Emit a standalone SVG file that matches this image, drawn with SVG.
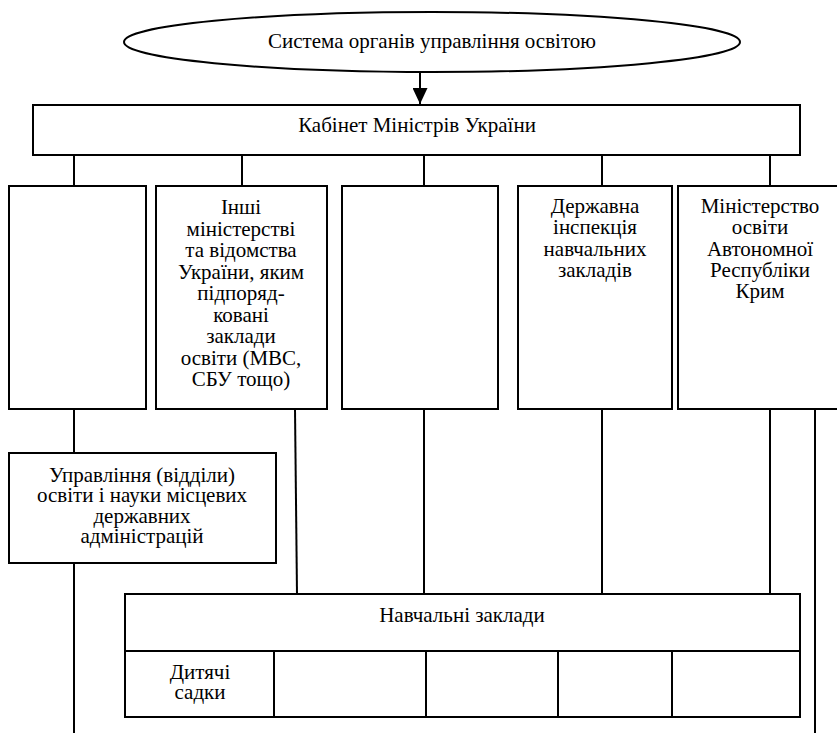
<svg xmlns="http://www.w3.org/2000/svg" width="837" height="733" viewBox="0 0 837 733">
<defs>
<style>
.b{fill:#fff;stroke:#000;stroke-width:2}
.l{stroke:#000;stroke-width:2;fill:none}
</style>
<marker id="ah" markerWidth="16" markerHeight="15" refX="16" refY="7.5" orient="auto" markerUnits="userSpaceOnUse" viewBox="0 0 16 15">
<path d="M0,0 L16,7.5 L0,15 Z" fill="#000"/>
</marker>
</defs>
<rect width="837" height="733" fill="#fff"/>
<g id="connectors">
<line class="l" x1="420" y1="72" x2="420" y2="104" marker-end="url(#ah)"/>
<line class="l" x1="74" y1="155" x2="74" y2="186"/>
<line class="l" x1="242" y1="155" x2="242" y2="186"/>
<line class="l" x1="424" y1="155" x2="424" y2="186"/>
<line class="l" x1="602" y1="155" x2="602" y2="186"/>
<line class="l" x1="770" y1="155" x2="770" y2="186"/>
<line class="l" x1="74" y1="409" x2="74" y2="453"/>
<line class="l" x1="74" y1="563" x2="74" y2="733"/>
<line class="l" x1="295" y1="409" x2="297" y2="594"/>
<line class="l" x1="424" y1="409" x2="424" y2="594"/>
<line class="l" x1="602" y1="409" x2="602" y2="594"/>
<line class="l" x1="770" y1="409" x2="770" y2="594"/>
<line class="l" x1="815" y1="409" x2="815" y2="733"/>
</g>
<g id="system">
<ellipse class="b" cx="432" cy="42" rx="308" ry="30"/>
<text x="432" y="48" font-family="Liberation Serif, serif" font-size="21" text-anchor="middle">Система органів управління освітою</text>
</g>
<g id="cabinet">
<rect class="b" x="33" y="105" width="767" height="50"/>
<text x="417" y="132" font-family="Liberation Serif, serif" font-size="21" text-anchor="middle">Кабінет Міністрів України</text>
</g>
<g id="box1">
<rect class="b" x="9" y="186" width="137" height="223"/>
</g>
<g id="box2">
<rect class="b" x="156" y="186" width="171" height="223"/>
<text x="241" y="214" font-family="Liberation Serif, serif" font-size="21" text-anchor="middle">Інші</text>
<text x="241" y="235.5" font-family="Liberation Serif, serif" font-size="21" text-anchor="middle">міністерстві</text>
<text x="241" y="257" font-family="Liberation Serif, serif" font-size="21" text-anchor="middle">та відомства</text>
<text x="241" y="278.5" font-family="Liberation Serif, serif" font-size="21" text-anchor="middle">України, яким</text>
<text x="241" y="300" font-family="Liberation Serif, serif" font-size="21" text-anchor="middle">підпоряд-</text>
<text x="241" y="321.5" font-family="Liberation Serif, serif" font-size="21" text-anchor="middle">ковані</text>
<text x="241" y="343" font-family="Liberation Serif, serif" font-size="21" text-anchor="middle">заклади</text>
<text x="241" y="364.5" font-family="Liberation Serif, serif" font-size="21" text-anchor="middle">освіти (МВС,</text>
<text x="241" y="386" font-family="Liberation Serif, serif" font-size="21" text-anchor="middle">СБУ тощо)</text>
</g>
<g id="box3">
<rect class="b" x="342" y="186" width="156" height="223"/>
</g>
<g id="box4">
<rect class="b" x="518" y="186" width="154" height="223"/>
<text x="595" y="213" font-family="Liberation Serif, serif" font-size="21" text-anchor="middle">Державна</text>
<text x="595" y="234" font-family="Liberation Serif, serif" font-size="21" text-anchor="middle">інспекція</text>
<text x="595" y="256" font-family="Liberation Serif, serif" font-size="21" text-anchor="middle">навчальних</text>
<text x="595" y="277" font-family="Liberation Serif, serif" font-size="21" text-anchor="middle">закладів</text>
</g>
<g id="box5">
<rect class="b" x="678" y="186" width="170" height="223"/>
<text x="760" y="213" font-family="Liberation Serif, serif" font-size="21" text-anchor="middle">Міністерство</text>
<text x="760" y="234" font-family="Liberation Serif, serif" font-size="21" text-anchor="middle">освіти</text>
<text x="760" y="256" font-family="Liberation Serif, serif" font-size="21" text-anchor="middle">Автономної</text>
<text x="760" y="277" font-family="Liberation Serif, serif" font-size="21" text-anchor="middle">Республіки</text>
<text x="760" y="298" font-family="Liberation Serif, serif" font-size="21" text-anchor="middle">Крим</text>
</g>
<g id="local">
<rect class="b" x="9" y="453" width="267" height="110"/>
<text x="142" y="482" font-family="Liberation Serif, serif" font-size="21" text-anchor="middle">Управління (відділи)</text>
<text x="142" y="502" font-family="Liberation Serif, serif" font-size="21" text-anchor="middle">освіти і науки місцевих</text>
<text x="142" y="523" font-family="Liberation Serif, serif" font-size="21" text-anchor="middle">державних</text>
<text x="142" y="543" font-family="Liberation Serif, serif" font-size="21" text-anchor="middle">адміністрацій</text>
</g>
<g id="schools">
<rect class="b" x="125" y="594" width="675" height="123"/>
<line class="l" x1="125" y1="651" x2="800" y2="651"/>
<line class="l" x1="274" y1="651" x2="274" y2="717"/>
<line class="l" x1="426" y1="651" x2="426" y2="717"/>
<line class="l" x1="558" y1="651" x2="558" y2="717"/>
<line class="l" x1="672" y1="651" x2="672" y2="717"/>
<text x="462" y="622" font-family="Liberation Serif, serif" font-size="21" text-anchor="middle">Навчальні заклади</text>
<text x="200" y="679" font-family="Liberation Serif, serif" font-size="21" text-anchor="middle">Дитячі</text>
<text x="200" y="699" font-family="Liberation Serif, serif" font-size="21" text-anchor="middle">садки</text>
</g>
</svg>
